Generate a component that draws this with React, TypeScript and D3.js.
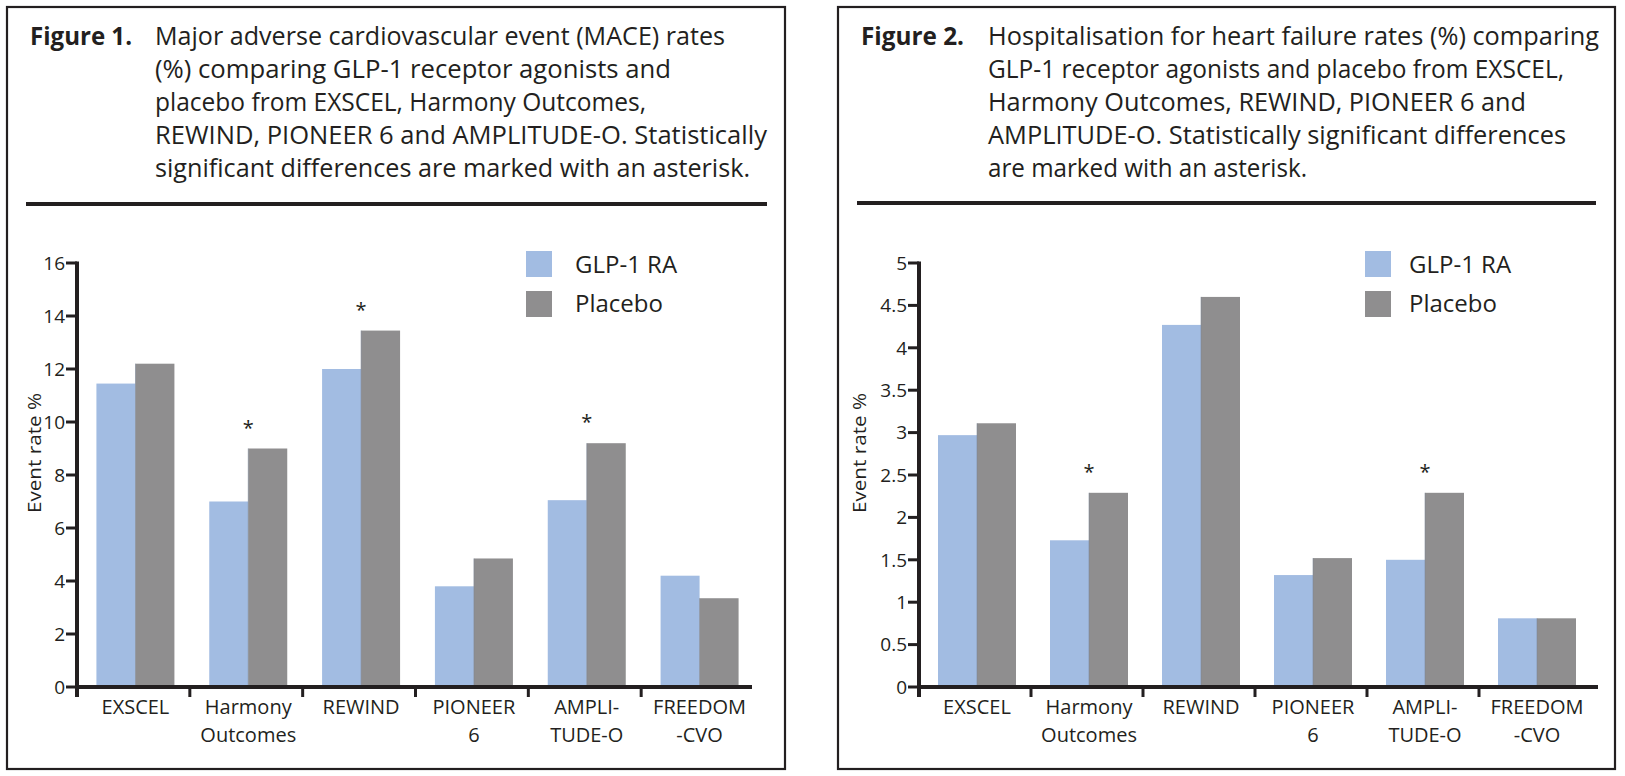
import React from "react";
import * as d3 from "d3";

// ---------- DATA ----------
const categories = ["EXSCEL", "Harmony Outcomes", "REWIND", "PIONEER 6", "AMPLITUDE-O", "FREEDOM-CVO"];
const categoryLabelLines = [["EXSCEL"], ["Harmony", "Outcomes"], ["REWIND"], ["PIONEER", "6"], ["AMPLI-", "TUDE-O"], ["FREEDOM", "-CVO"]];
const seriesNames = ["GLP-1 RA", "Placebo"];

const maceGlp1 = [11.45, 7.0, 12.0, 3.8, 7.05, 4.2];
const macePlacebo = [12.2, 9.0, 13.45, 4.85, 9.2, 3.35];
const maceSignificant = [false, true, true, false, true, false];
const maceTicks = [0, 2, 4, 6, 8, 10, 12, 14, 16];

const hhfGlp1 = [2.97, 1.73, 4.27, 1.32, 1.5, 0.81];
const hhfPlacebo = [3.11, 2.29, 4.6, 1.52, 2.29, 0.81];
const hhfSignificant = [false, true, false, false, true, false];
const hhfTicks = [0, 0.5, 1, 1.5, 2, 2.5, 3, 3.5, 4, 4.5, 5];

const yAxisTitle = "Event rate %";

const fig1Label = "Figure 1.";
const fig1Caption = [
  "Major adverse cardiovascular event (MACE) rates",
  "(%) comparing GLP-1 receptor agonists and",
  "placebo from EXSCEL, Harmony Outcomes,",
  "REWIND, PIONEER 6 and AMPLITUDE-O. Statistically",
  "significant differences are marked with an asterisk.",
];
const fig2Label = "Figure 2.";
const fig2Caption = [
  "Hospitalisation for heart failure rates (%) comparing",
  "GLP-1 receptor agonists and placebo from EXSCEL,",
  "Harmony Outcomes, REWIND, PIONEER 6 and",
  "AMPLITUDE-O. Statistically significant differences",
  "are marked with an asterisk.",
];

// ---------- LAYOUT / STYLE ----------
const FONT = "'Open Sans', 'Noto Sans', 'DejaVu Sans', sans-serif";
const INK = "#231f20";
const BLUE = "#a2bce2";
const GREY = "#8f8e8f";

const panel1 = {
  x0: 7, x1: 785, y0: 7, y1: 769,
  labelX: 30, labelW: 102, textX: 155,
  lineWidths: [570, 516, 491, 612, 595],
  sepX0: 26, sepX1: 767, sepY: 204,
};
const panel2 = {
  x0: 838, x1: 1615, y0: 7, y1: 769,
  labelX: 861, labelW: 103, textX: 988,
  lineWidths: [611, 576, 538, 578, 319],
  sepX0: 857, sepX1: 1596, sepY: 203,
};
const captionBaselines = [45, 78, 111, 144, 177];

const chart1 = {
  axisX: 77, left: 77, right: 754, axisEnd: 752, top: 263, bottom: 687,
  ytitleX: 41, legendX: 526, legendTextX: 575,
};
const chart2 = {
  axisX: 919, left: 919, right: 1591, axisEnd: 1598, top: 263, bottom: 687,
  ytitleX: 866, legendX: 1365, legendTextX: 1409,
};

function Caption({ p, label, lines }: any) {
  return (
    <g fill={INK} fontFamily={FONT}>
      <rect x={p.x0} y={p.y0} width={p.x1 - p.x0} height={p.y1 - p.y0} fill="none" stroke={INK} strokeWidth={2.2} />
      <text x={p.labelX} y={captionBaselines[0]} fontSize={25} fontWeight={700} textLength={p.labelW} lengthAdjust="spacingAndGlyphs">
        {label}
      </text>
      {lines.map((ln: string, i: number) => (
        <text key={i} x={p.textX} y={captionBaselines[i]} fontSize={25} textLength={p.lineWidths[i]} lengthAdjust="spacingAndGlyphs">
          {ln}
        </text>
      ))}
      <line x1={p.sepX0} x2={p.sepX1} y1={p.sepY} y2={p.sepY} stroke={INK} strokeWidth={4} />
    </g>
  );
}

function BarChart({ c, glp, pla, sig, ticks }: any) {
  const max = ticks[ticks.length - 1];
  const y = d3.scaleLinear().domain([0, max]).range([c.bottom, c.top]);
  const x = d3.scaleBand<string>().domain(categories).range([c.left, c.right]);
  const pairW = 78;
  const s = d3.scaleBand<string>().domain(seriesNames).range([0, pairW]);
  const values = [glp, pla];
  const colors = d3.scaleOrdinal<string, string>().domain(seriesNames).range([BLUE, GREY]);
  const center = (cat: string) => (x(cat) as number) + x.bandwidth() / 2 + 2;
  const fmt = d3.format("~g");

  return (
    <g fontFamily={FONT} fill={INK}>
      {/* bars */}
      {categories.map((cat, i) => (
        <g key={cat}>
          {seriesNames.map((sn, k) => {
            const v = values[k][i];
            const bx = center(cat) - pairW / 2 + (s(sn) as number);
            return (
              <rect key={sn} x={bx} y={y(v)} width={s.bandwidth()} height={y(0) - y(v)} fill={colors(sn)} />
            );
          })}
          <line
            x1={center(cat)} x2={center(cat)}
            y1={y(pla[i])} y2={y(0)}
            stroke="#7b8596" strokeWidth={0.8} opacity={0.7}
          />
          {sig[i] && (
            <text x={center(cat)} y={y(Math.max(glp[i], pla[i])) - 26 + 12} fontSize={20} textAnchor="middle">
              *
            </text>
          )}
        </g>
      ))}

      {/* y axis */}
      <line x1={c.axisX} x2={c.axisX} y1={c.top - 1.5} y2={c.bottom + 10} stroke={INK} strokeWidth={4} />
      {ticks.map((t: number) => (
        <g key={t}>
          <line x1={c.axisX - 11} x2={c.axisX} y1={y(t)} y2={y(t)} stroke={INK} strokeWidth={3} />
          <text x={c.axisX - 12} y={y(t)} dy="0.36em" fontSize={19} textAnchor="end">
            {fmt(t)}
          </text>
        </g>
      ))}
      <text
        transform={`translate(${c.ytitleX},${(c.top + c.bottom) / 2 - 22}) rotate(-90)`}
        fontSize={19}
        textAnchor="middle"
        textLength={120}
        lengthAdjust="spacingAndGlyphs"
      >
        {yAxisTitle}
      </text>

      {/* x axis */}
      <line x1={c.axisX - 2} x2={c.axisEnd} y1={y(0)} y2={y(0)} stroke={INK} strokeWidth={4} />
      {categories.slice(1).map((cat) => (
        <line key={cat} x1={x(cat) as number} x2={x(cat) as number} y1={y(0)} y2={y(0) + 10} stroke={INK} strokeWidth={3} />
      ))}
      {categories.map((cat, i) => (
        <text key={cat} x={center(cat)} y={714} fontSize={20} textAnchor="middle">
          {categoryLabelLines[i].map((ln, j) => (
            <tspan key={j} x={center(cat)} y={714 + j * 28}>
              {ln}
            </tspan>
          ))}
        </text>
      ))}

      {/* legend */}
      {seriesNames.map((sn, k) => (
        <g key={sn}>
          <rect x={c.legendX} y={251 + k * 40} width={26} height={26} fill={colors(sn)} />
          <text x={c.legendTextX} y={273 + k * 39} fontSize={24}>
            {sn}
          </text>
        </g>
      ))}
    </g>
  );
}

export default function App() {
  return (
    <svg
      width={1625}
      height={776}
      viewBox="0 0 1625 776"
      style={{ position: "absolute", left: 0, top: 0, background: "#fff" }}
    >
      <rect x={0} y={0} width={1625} height={776} fill="#fff" />
      <Caption p={panel1} label={fig1Label} lines={fig1Caption} />
      <Caption p={panel2} label={fig2Label} lines={fig2Caption} />
      <BarChart c={chart1} glp={maceGlp1} pla={macePlacebo} sig={maceSignificant} ticks={maceTicks} />
      <BarChart c={chart2} glp={hhfGlp1} pla={hhfPlacebo} sig={hhfSignificant} ticks={hhfTicks} />
    </svg>
  );
}
